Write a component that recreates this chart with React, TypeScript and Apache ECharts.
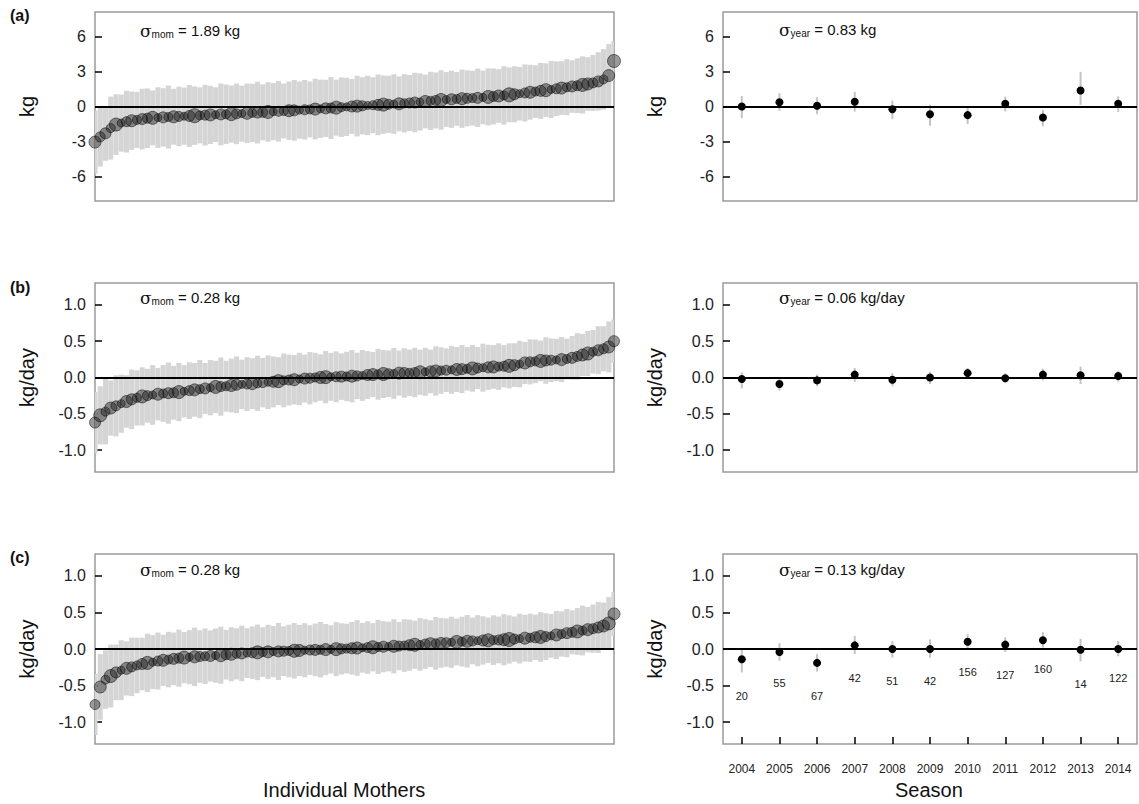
import React, { useEffect, useRef } from "react";
import * as echarts from "echarts";

// ---------- Left panels: individual mothers (ranked) ----------
const momA = [-3.05,-2.6,-2.3,-1.85,-1.55,-1.42,-1.3,-1.22,-1.15,-1.08,
-1.0,-0.97,-0.95,-0.93,-0.9,-0.88,-0.85,-0.83,-0.81,-0.79,
-0.76,-0.74,-0.72,-0.7,-0.68,-0.67,-0.65,-0.63,-0.61,-0.58,
-0.55,-0.52,-0.5,-0.47,-0.44,-0.41,-0.38,-0.36,-0.33,-0.31,
-0.28,-0.25,-0.22,-0.2,-0.16,-0.13,-0.1,-0.06,-0.03,0.0,
0.03,0.06,0.09,0.11,0.14,0.16,0.19,0.21,0.23,0.27,
0.3,0.34,0.39,0.43,0.48,0.52,0.56,0.6,0.62,0.65,
0.67,0.7,0.72,0.74,0.78,0.82,0.86,0.9,0.95,1.0,
1.05,1.1,1.16,1.22,1.28,1.34,1.4,1.46,1.52,1.58,
1.65,1.72,1.78,1.85,1.93,2.02,2.15,2.32,2.65,3.9];
const momAErr = [2.7,2.55,2.35,2.7,2.6,2.45,2.65,2.5,2.4,2.6,
2.55,2.35,2.6,2.5,2.7,2.4,2.55,2.45,2.65,2.5,
2.4,2.6,2.5,2.35,2.65,2.55,2.45,2.6,2.4,2.55,
2.5,2.65,2.4,2.55,2.45,2.6,2.35,2.5,2.6,2.45,
2.55,2.4,2.6,2.5,2.45,2.65,2.4,2.55,2.5,2.35,
2.6,2.45,2.55,2.4,2.6,2.5,2.45,2.55,2.35,2.5,
2.4,2.55,2.45,2.3,2.5,2.4,2.55,2.35,2.45,2.3,
2.5,2.4,2.35,2.5,2.3,2.45,2.4,2.3,2.5,2.35,
2.4,2.3,2.45,2.35,2.25,2.4,2.3,2.45,2.35,2.3,
2.4,2.25,2.35,2.45,2.3,2.4,2.5,2.6,2.7,1.7];
const momASize = [12,10,11,9,13,8,10,12,9,11,
10,13,8,11,9,12,10,8,11,14,
9,10,12,8,11,9,13,10,8,12,
9,11,10,13,8,10,9,12,11,8,
10,9,12,8,11,10,13,9,8,11,
12,10,8,9,11,13,10,8,12,9,
10,11,8,12,9,10,13,8,11,9,
12,10,9,11,8,13,10,12,9,14,
11,8,10,12,9,11,13,8,10,12,
9,11,10,13,12,10,11,9,12,13];

const momB = [-0.62,-0.52,-0.47,-0.42,-0.39,-0.36,-0.33,-0.3,-0.28,-0.26,
-0.25,-0.24,-0.23,-0.22,-0.215,-0.21,-0.2,-0.19,-0.18,-0.17,
-0.16,-0.15,-0.14,-0.13,-0.125,-0.12,-0.11,-0.1,-0.095,-0.09,
-0.085,-0.08,-0.07,-0.065,-0.06,-0.05,-0.04,-0.035,-0.03,-0.02,
-0.015,-0.01,0.0,0.0,0.005,0.01,0.01,0.012,0.014,0.018,
0.022,0.028,0.034,0.04,0.044,0.048,0.052,0.056,0.06,0.062,
0.064,0.068,0.072,0.078,0.084,0.09,0.095,0.1,0.105,0.11,
0.115,0.12,0.125,0.13,0.135,0.14,0.145,0.15,0.155,0.16,
0.17,0.185,0.2,0.215,0.222,0.228,0.234,0.238,0.242,0.246,
0.255,0.27,0.29,0.31,0.33,0.355,0.375,0.395,0.42,0.5];
const momBErr = [0.42,0.4,0.45,0.38,0.42,0.4,0.36,0.41,0.38,0.4,
0.37,0.41,0.36,0.39,0.42,0.37,0.4,0.36,0.39,0.37,
0.4,0.35,0.38,0.36,0.4,0.35,0.37,0.39,0.34,0.37,
0.35,0.38,0.34,0.37,0.35,0.33,0.37,0.35,0.34,0.36,
0.33,0.36,0.34,0.32,0.36,0.33,0.35,0.32,0.34,0.36,
0.32,0.35,0.33,0.31,0.35,0.33,0.32,0.35,0.31,0.34,
0.32,0.34,0.31,0.33,0.3,0.34,0.32,0.3,0.33,0.31,
0.33,0.3,0.32,0.29,0.33,0.31,0.3,0.32,0.29,0.31,
0.3,0.32,0.29,0.31,0.3,0.28,0.32,0.3,0.29,0.31,
0.28,0.3,0.32,0.29,0.31,0.3,0.33,0.31,0.35,0.3];
const momBSize = [11,13,9,12,10,8,12,11,9,13,
10,8,12,9,11,10,13,8,10,12,
9,11,8,13,10,9,12,11,8,10,
12,9,10,8,11,13,9,10,12,8,
11,10,9,12,13,8,10,11,9,12,
10,8,11,12,9,13,10,8,12,11,
9,10,13,8,11,12,9,10,8,12,
11,9,13,10,8,11,12,9,10,13,
11,8,12,10,9,13,11,10,8,12,
9,11,10,12,13,9,11,10,12,11];

const momC = [-0.76,-0.52,-0.42,-0.37,-0.32,-0.29,-0.265,-0.245,-0.225,-0.205,
-0.19,-0.18,-0.165,-0.155,-0.145,-0.135,-0.125,-0.118,-0.112,-0.107,
-0.103,-0.099,-0.095,-0.09,-0.085,-0.078,-0.072,-0.066,-0.061,-0.056,
-0.051,-0.046,-0.042,-0.039,-0.036,-0.033,-0.03,-0.027,-0.024,-0.02,
-0.017,-0.014,-0.012,-0.01,-0.008,-0.005,-0.002,0.002,0.006,0.01,
0.014,0.017,0.02,0.024,0.028,0.031,0.034,0.037,0.04,0.047,
0.053,0.058,0.063,0.068,0.073,0.078,0.083,0.087,0.092,0.097,
0.101,0.105,0.11,0.114,0.117,0.119,0.121,0.124,0.127,0.13,
0.136,0.142,0.148,0.154,0.16,0.165,0.17,0.18,0.192,0.205,
0.217,0.229,0.24,0.252,0.265,0.278,0.295,0.315,0.35,0.48];
const momCErr = [0.42,0.45,0.4,0.43,0.38,0.41,0.37,0.4,0.38,0.36,
0.4,0.37,0.39,0.35,0.38,0.36,0.39,0.35,0.37,0.4,
0.36,0.38,0.35,0.37,0.39,0.34,0.37,0.35,0.38,0.34,
0.36,0.38,0.34,0.37,0.35,0.39,0.34,0.36,0.38,0.35,
0.37,0.34,0.36,0.38,0.35,0.33,0.37,0.35,0.34,0.36,
0.38,0.34,0.36,0.33,0.37,0.35,0.34,0.37,0.33,0.36,
0.35,0.33,0.36,0.34,0.32,0.36,0.34,0.33,0.35,0.32,
0.34,0.36,0.32,0.35,0.33,0.31,0.34,0.32,0.35,0.33,
0.31,0.34,0.32,0.33,0.31,0.34,0.32,0.3,0.33,0.31,
0.33,0.3,0.32,0.34,0.31,0.33,0.35,0.32,0.36,0.3];
const momCSize = [10,12,9,13,11,8,12,10,9,11,
13,8,10,12,9,11,10,13,8,12,
10,9,11,8,13,10,12,9,11,8,
10,13,9,12,8,11,10,9,13,12,
8,10,11,9,12,8,13,10,9,11,
12,8,10,13,9,11,8,12,10,9,
11,13,8,10,12,9,11,10,8,13,
9,12,10,8,11,13,9,10,12,14,
10,8,12,9,11,13,10,8,12,9,
11,10,13,9,12,10,11,12,13,12];

// ---------- Right panels: seasons ----------
const seasons = ["2004","2005","2006","2007","2008","2009","2010","2011","2012","2013","2014"];
const yearA = [0.0,0.37,0.06,0.4,-0.23,-0.66,-0.74,0.23,-0.94,1.37,0.23];
const yearALo = [-1.0,-0.37,-0.66,-0.43,-1.09,-1.66,-1.49,-0.43,-1.71,0.14,-0.46];
const yearAHi = [0.91,1.14,0.8,1.26,0.51,0.14,-0.06,0.86,-0.29,2.97,0.86];
const yearB = [-0.02,-0.09,-0.04,0.04,-0.03,0.0,0.06,-0.01,0.04,0.03,0.02];
const yearBLo = [-0.15,-0.18,-0.12,-0.06,-0.12,-0.09,-0.01,-0.07,-0.04,-0.09,-0.06];
const yearBHi = [0.07,-0.01,0.04,0.13,0.06,0.08,0.13,0.06,0.12,0.15,0.09];
const yearC = [-0.14,-0.04,-0.19,0.05,0.0,0.0,0.1,0.06,0.12,-0.01,0.0];
const yearCLo = [-0.32,-0.16,-0.31,-0.07,-0.12,-0.12,-0.01,-0.04,0.02,-0.17,-0.1];
const yearCHi = [-0.01,0.08,-0.07,0.18,0.11,0.13,0.2,0.16,0.23,0.14,0.11];
const seasonCounts = [20,55,67,42,51,42,156,127,160,14,122];
const countLabelY = [-0.64,-0.47,-0.64,-0.39,-0.44,-0.44,-0.32,-0.36,-0.28,-0.48,-0.4];

const kgTicks = [-6, -3, 0, 3, 6];
const rateTicks = [-1, -0.5, 0, 0.5, 1];

const FONT = 'Arial, "Liberation Sans", Helvetica, sans-serif';

function App() {
  const ref = useRef<HTMLDivElement>(null);
  useEffect(() => {
    if (!ref.current) return;
    const chart = echarts.init(ref.current, undefined, { renderer: "svg" });

    const grids = [
      { left: 95, top: 12, width: 519, height: 189 },
      { left: 723, top: 12, width: 414, height: 189 },
      { left: 95, top: 283, width: 519, height: 189 },
      { left: 723, top: 283, width: 414, height: 189 },
      { left: 95, top: 554, width: 519, height: 190 },
      { left: 723, top: 554, width: 414, height: 190 },
    ].map((g) => ({ ...g, show: true, borderColor: "#9a9a9a", borderWidth: 1.5, backgroundColor: "transparent" }));

    const xAxes: any[] = [];
    const yAxes: any[] = [];
    for (let i = 0; i < 6; i++) {
      const isLeft = i % 2 === 0;
      const isBottomRight = i === 5;
      if (isLeft) {
        xAxes.push({ type: "value", gridIndex: i, min: 0, max: momA.length - 1, show: false });
      } else {
        xAxes.push({
          type: "category",
          gridIndex: i,
          data: seasons,
          boundaryGap: true,
          position: "bottom",
          show: true,
          axisLine: { show: false, onZero: false },
          axisTick: { show: isBottomRight, inside: true, length: 7, alignWithLabel: true, lineStyle: { color: "#000", width: 1.5 } },
          axisLabel: { show: isBottomRight, margin: 19, fontSize: 12, color: "#222", fontFamily: FONT },
          splitLine: { show: false },
        });
      }
      const isKg = i < 2;
      const ticks = isKg ? kgTicks : rateTicks;
      yAxes.push({
        type: "value",
        gridIndex: i,
        min: isKg ? -8.1 : -1.3,
        max: isKg ? 8.1 : 1.3,
        name: isKg ? "kg" : "kg/day",
        nameLocation: "middle",
        nameGap: 58,
        nameRotate: 90,
        nameTextStyle: { fontSize: 20, color: "#111", fontFamily: FONT },
        axisLine: { show: false, onZero: false },
        splitLine: { show: false },
        axisTick: { show: true, inside: true, length: 7, customValues: ticks, lineStyle: { color: "#000", width: 1.5 } },
        axisLabel: {
          show: true,
          customValues: ticks,
          margin: 9,
          fontSize: 16,
          color: "#222",
          fontFamily: FONT,
          formatter: (v: number) => (isKg ? String(v) : v.toFixed(1)),
        },
      });
    }

    const zeroLine = {
      silent: true,
      symbol: "none",
      label: { show: false },
      lineStyle: { color: "#000", width: 2, type: "solid" },
      data: [{ yAxis: 0 }],
    };

    const leftSets = [
      { v: momA, e: momAErr, s: momASize, g: 0 },
      { v: momB, e: momBErr, s: momBSize, g: 2 },
      { v: momC, e: momCErr, s: momCSize, g: 4 },
    ];
    const rightSets = [
      { v: yearA, lo: yearALo, hi: yearAHi, g: 1 },
      { v: yearB, lo: yearBLo, hi: yearBHi, g: 3 },
      { v: yearC, lo: yearCLo, hi: yearCHi, g: 5 },
    ];

    const series: any[] = [];
    leftSets.forEach((set) => {
      series.push({
        type: "custom",
        xAxisIndex: set.g,
        yAxisIndex: set.g,
        clip: true,
        silent: true,
        data: set.v.map((v, i) => [i, v - set.e[i], v + set.e[i]]),
        renderItem: (params: any, api: any) => {
          const x = api.value(0);
          const top = api.coord([x, api.value(2)]);
          const bot = api.coord([x, api.value(1)]);
          const w = api.size([1, 0])[0] * 0.97;
          return {
            type: "rect",
            shape: { x: top[0] - w / 2, y: top[1], width: w, height: bot[1] - top[1] },
            style: { fill: "#d5d5d5" },
          };
        },
        markLine: zeroLine,
        z: 1,
      });
      series.push({
        type: "scatter",
        xAxisIndex: set.g,
        yAxisIndex: set.g,
        clip: true,
        silent: true,
        data: set.v.map((v, i) => [i, v, set.s[i]]),
        symbolSize: (val: number[]) => val[2],
        itemStyle: { color: "rgba(25,25,25,0.55)", borderColor: "rgba(10,10,10,0.65)", borderWidth: 1 },
        z: 3,
      });
    });
    rightSets.forEach((set) => {
      series.push({
        type: "custom",
        xAxisIndex: set.g,
        yAxisIndex: set.g,
        silent: true,
        data: set.v.map((v, i) => [i, set.lo[i], set.hi[i]]),
        renderItem: (params: any, api: any) => {
          const x = api.value(0);
          const top = api.coord([x, api.value(2)]);
          const bot = api.coord([x, api.value(1)]);
          return {
            type: "line",
            shape: { x1: top[0], y1: top[1], x2: bot[0], y2: bot[1] },
            style: { stroke: "#c4c4c4", lineWidth: 2 },
          };
        },
        markLine: zeroLine,
        z: 1,
      });
      series.push({
        type: "scatter",
        xAxisIndex: set.g,
        yAxisIndex: set.g,
        silent: true,
        data: set.v.map((v, i) => [i, v]),
        symbolSize: 8,
        itemStyle: { color: "#000", opacity: 1 },
        z: 3,
      });
    });
    series.push({
      type: "custom",
      xAxisIndex: 5,
      yAxisIndex: 5,
      silent: true,
      data: seasonCounts.map((c, i) => [i, countLabelY[i], c]),
      renderItem: (params: any, api: any) => {
        const p = api.coord([api.value(0), api.value(1)]);
        return {
          type: "text",
          x: p[0],
          y: p[1],
          style: {
            text: String(api.value(2)),
            fill: "#222",
            fontSize: 11,
            fontFamily: FONT,
            align: "center",
            verticalAlign: "middle",
          },
        };
      },
      z: 4,
    });

    const sigma = (x: number, y: number, sub: string, rest: string) => ({
      type: "text",
      left: x,
      top: y,
      silent: true,
      style: {
        text: `{s|σ}{b|${sub}}{n| = ${rest}}`,
        rich: {
          s: { fontSize: 17, fontFamily: "'DejaVu Serif', serif", fill: "#111", lineHeight: 18, verticalAlign: "middle" },
          b: { fontSize: 10, fontFamily: FONT, fill: "#111", lineHeight: 10, verticalAlign: "bottom" },
          n: { fontSize: 15, fontFamily: FONT, fill: "#111", lineHeight: 18, verticalAlign: "middle" },
        },
      },
    });
    const panelLabel = (txt: string, y: number) => ({
      type: "text",
      left: 10,
      top: y,
      silent: true,
      style: { text: txt, fontSize: 16, fontWeight: "bold", fontFamily: FONT, fill: "#111" },
    });

    const graphic = [
      panelLabel("(a)", 7),
      panelLabel("(b)", 279),
      panelLabel("(c)", 549),
      sigma(140, 22, "mom", "1.89 kg"),
      sigma(140, 289, "mom", "0.28 kg"),
      sigma(140, 561, "mom", "0.28 kg"),
      sigma(779, 21, "year", "0.83 kg"),
      sigma(779, 289, "year", "0.06 kg/day"),
      sigma(779, 561, "year", "0.13 kg/day"),
      {
        type: "text",
        left: 263,
        top: 780,
        silent: true,
        style: { text: "Individual Mothers", fontSize: 20, fontFamily: FONT, fill: "#111" },
      },
      {
        type: "text",
        left: 895,
        top: 780,
        silent: true,
        style: { text: "Season", fontSize: 20, fontFamily: FONT, fill: "#111" },
      },
    ];

    chart.setOption({
      animation: false,
      backgroundColor: "#fff",
      grid: grids,
      xAxis: xAxes,
      yAxis: yAxes,
      series,
      graphic,
    });
    return () => chart.dispose();
  }, []);
  return <div ref={ref} style={{ position: "fixed", left: 0, top: 0, width: 1139, height: 804 }} />;
}

export default App;
